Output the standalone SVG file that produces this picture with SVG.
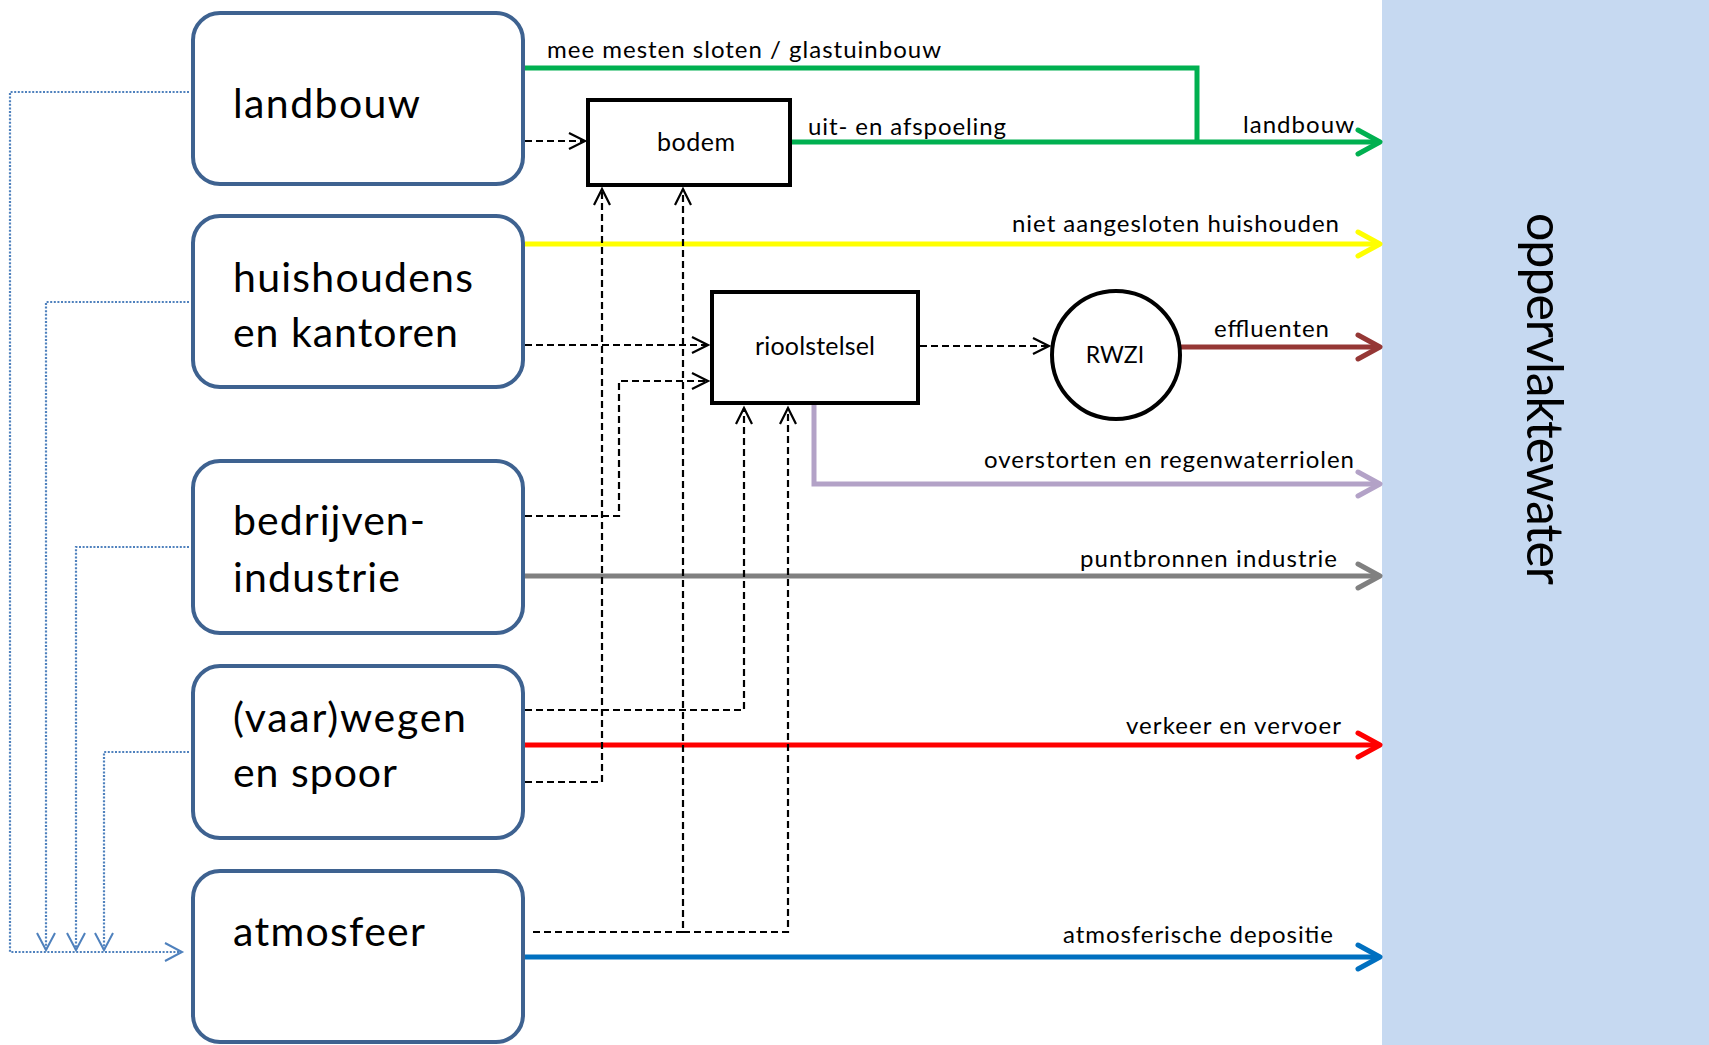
<svg xmlns="http://www.w3.org/2000/svg" width="1709" height="1045" viewBox="0 0 1709 1045">
<style>
text{font-family:Lato,"Open Sans","Liberation Sans",sans-serif;fill:#000}
.big{font-size:41px}
.lbl{font-size:24px}
.inner{font-size:25px}
.src{fill:#fff;stroke:#3E6290;stroke-width:4}
.blk{fill:#fff;stroke:#000;stroke-width:4}
.flow{fill:none;stroke-width:5}
.dash{fill:none;stroke:#000;stroke-width:2.2;stroke-dasharray:7 4}
.dot{fill:none;stroke:#4F81BD;stroke-width:2.2;stroke-dasharray:2 1.6}
</style>
<defs>
<marker id="aG" markerUnits="userSpaceOnUse" orient="auto" overflow="visible" markerWidth="1" markerHeight="1"><path d="M-22,-12 L0,0 L-22,12" fill="none" stroke="#00B050" stroke-width="5" stroke-linecap="round" stroke-linejoin="round"/></marker>
<marker id="aY" markerUnits="userSpaceOnUse" orient="auto" overflow="visible" markerWidth="1" markerHeight="1"><path d="M-22,-12 L0,0 L-22,12" fill="none" stroke="#FFFF00" stroke-width="5" stroke-linecap="round" stroke-linejoin="round"/></marker>
<marker id="aB" markerUnits="userSpaceOnUse" orient="auto" overflow="visible" markerWidth="1" markerHeight="1"><path d="M-22,-12 L0,0 L-22,12" fill="none" stroke="#953735" stroke-width="5" stroke-linecap="round" stroke-linejoin="round"/></marker>
<marker id="aL" markerUnits="userSpaceOnUse" orient="auto" overflow="visible" markerWidth="1" markerHeight="1"><path d="M-22,-12 L0,0 L-22,12" fill="none" stroke="#B3A2C7" stroke-width="5" stroke-linecap="round" stroke-linejoin="round"/></marker>
<marker id="aGr" markerUnits="userSpaceOnUse" orient="auto" overflow="visible" markerWidth="1" markerHeight="1"><path d="M-22,-12 L0,0 L-22,12" fill="none" stroke="#808080" stroke-width="5" stroke-linecap="round" stroke-linejoin="round"/></marker>
<marker id="aR" markerUnits="userSpaceOnUse" orient="auto" overflow="visible" markerWidth="1" markerHeight="1"><path d="M-22,-12 L0,0 L-22,12" fill="none" stroke="#FF0000" stroke-width="5" stroke-linecap="round" stroke-linejoin="round"/></marker>
<marker id="aBl" markerUnits="userSpaceOnUse" orient="auto" overflow="visible" markerWidth="1" markerHeight="1"><path d="M-22,-12 L0,0 L-22,12" fill="none" stroke="#0070C0" stroke-width="5" stroke-linecap="round" stroke-linejoin="round"/></marker>
<marker id="aK" markerUnits="userSpaceOnUse" orient="auto" overflow="visible" markerWidth="1" markerHeight="1"><path d="M-16,-8 L0,0 L-16,8" fill="none" stroke="#000" stroke-width="2.2" stroke-dasharray="none"/></marker>
<marker id="aD" markerUnits="userSpaceOnUse" orient="auto" overflow="visible" markerWidth="1" markerHeight="1"><path d="M-17,-9 L0,0 L-17,9" fill="none" stroke="#4F81BD" stroke-width="2" stroke-dasharray="none"/></marker>
</defs>
<rect x="0" y="0" width="1709" height="1045" fill="#fff"/>
<g id="oppervlaktewater">
<rect x="1382" y="0" width="327" height="1045" fill="#C6D9F1"/>
<text transform="translate(1527,213) rotate(90)" x="0" y="0" style="font-size:50px" textLength="372">oppervlaktewater</text>
</g>
<g id="connectors">
<path class="flow" stroke="#00B050" d="M525,68 H1197 V142"/>
<path class="flow" stroke="#00B050" d="M792,142 H1380" marker-end="url(#aG)"/>
<path class="flow" stroke="#FFFF00" d="M525,244 H1380" marker-end="url(#aY)"/>
<path class="flow" stroke="#953735" d="M1181,347 H1380" marker-end="url(#aB)"/>
<path class="flow" stroke="#B3A2C7" d="M814,404 V484 H1380" marker-end="url(#aL)"/>
<path class="flow" stroke="#808080" d="M525,576 H1380" marker-end="url(#aGr)"/>
<path class="flow" stroke="#FF0000" d="M525,745 H1380" marker-end="url(#aR)"/>
<path class="flow" stroke="#0070C0" d="M525,957 H1380" marker-end="url(#aBl)"/>
<path class="dash" d="M525,141 H585" marker-end="url(#aK)"/>
<path class="dash" d="M525,345 H708" marker-end="url(#aK)"/>
<path class="dash" d="M525,516 H619 V381 H708" marker-end="url(#aK)"/>
<path class="dash" d="M525,710 H744 V408" marker-end="url(#aK)"/>
<path class="dash" d="M525,782 H602 V189" marker-end="url(#aK)"/>
<path class="dash" d="M533,932 H683 V189" marker-end="url(#aK)"/>
<path class="dash" d="M683,932 H788 V408" marker-end="url(#aK)"/>
<path class="dash" d="M920,346 H1049" marker-end="url(#aK)"/>
<path class="dot" d="M189,92 H10 V952 H182" marker-end="url(#aD)"/>
<path class="dot" d="M189,302 H46 V950" marker-end="url(#aD)"/>
<path class="dot" d="M189,547 H76 V950" marker-end="url(#aD)"/>
<path class="dot" d="M189,752 H104 V950" marker-end="url(#aD)"/>
<text class="lbl" x="547" y="58" textLength="394">mee mesten sloten / glastuinbouw</text>
<text class="lbl" x="808" y="135" textLength="198">uit- en afspoeling</text>
<text class="lbl" x="1243" y="133" textLength="111">landbouw</text>
<text class="lbl" x="1012" y="232" textLength="327">niet aangesloten huishouden</text>
<text class="lbl" x="1214" y="337" textLength="115">effluenten</text>
<text class="lbl" x="984" y="468" textLength="370">overstorten en regenwaterriolen</text>
<text class="lbl" x="1080" y="567" textLength="257">puntbronnen industrie</text>
<text class="lbl" x="1126" y="734" textLength="215">verkeer en vervoer</text>
<text class="lbl" x="1063" y="943" textLength="270">atmosferische depositie</text>
</g>
<g id="landbouw">
<rect class="src" x="193" y="13" width="330" height="171" rx="27"/>
<text class="big" x="233" y="118" textLength="187">landbouw</text>
</g>
<g id="huishoudens">
<rect class="src" x="193" y="216" width="330" height="171" rx="27"/>
<text class="big" x="233" y="292" textLength="240">huishoudens</text>
<text class="big" x="233" y="347" textLength="225">en kantoren</text>
</g>
<g id="bedrijven">
<rect class="src" x="193" y="461" width="330" height="172" rx="27"/>
<text class="big" x="233" y="535" textLength="192">bedrijven-</text>
<text class="big" x="233" y="592" textLength="167">industrie</text>
</g>
<g id="vaarwegen">
<rect class="src" x="193" y="666" width="330" height="172" rx="27"/>
<text class="big" x="233" y="732" textLength="233">(vaar)wegen</text>
<text class="big" x="233" y="787" textLength="164">en spoor</text>
</g>
<g id="atmosfeer">
<rect class="src" x="193" y="871" width="330" height="171" rx="27"/>
<text class="big" x="233" y="946" textLength="192">atmosfeer</text>
</g>
<g id="bodem">
<rect class="blk" x="588" y="100" width="202" height="85"/>
<text class="inner" x="657" y="151" textLength="78">bodem</text>
</g>
<g id="rioolstelsel">
<rect class="blk" x="712" y="292" width="206" height="111"/>
<text class="inner" x="755" y="355" textLength="120">rioolstelsel</text>
</g>
<g id="RWZI">
<circle class="blk" cx="1116" cy="355" r="64"/>
<text x="1115" y="363" text-anchor="middle" style="font-size:23px">RWZI</text>
</g>
</svg>
